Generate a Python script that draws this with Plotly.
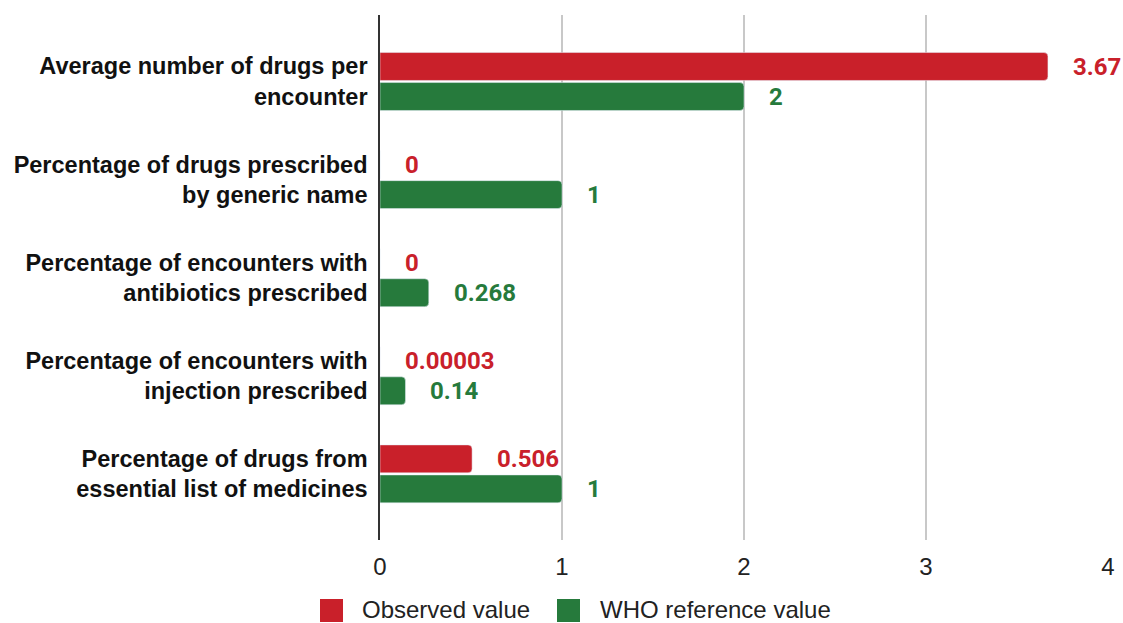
import plotly.graph_objects as go

categories = [
    "Average number of drugs per<br>encounter",
    "Percentage of drugs prescribed<br>by generic name",
    "Percentage of encounters with<br>antibiotics prescribed",
    "Percentage of encounters with<br>injection prescribed",
    "Percentage of drugs from<br>essential list of medicines",
]
observed = [3.67, 0, 0, 0.00003, 0.506]
who_ref = [2, 1, 0.268, 0.14, 1]
observed_labels = ["3.67", "0", "0", "0.00003", "0.506"]
who_labels = ["2", "1", "0.268", "0.14", "1"]
series_names = ["Observed value", "WHO reference value"]
x_ticks = [0, 1, 2, 3, 4]

RED = "#c9202a"
GREEN = "#267a3c"

W, H = 1123, 623
ML, MR, MT, MB = 380, 15, 15, 83
PW, PH = W - ML - MR, H - MT - MB


def px_x(sx):  # screen x -> paper x
    return (sx - ML) / PW


def px_y(sy):  # screen y -> paper y
    return (H - MB - sy) / PH


fig = go.Figure()
fig.add_trace(go.Bar(y=categories, x=observed, orientation="h", name=series_names[0],
                     marker=dict(color=RED, cornerradius=4), hoverinfo="x"))
fig.add_trace(go.Bar(y=categories, x=who_ref, orientation="h", name=series_names[1],
                     marker=dict(color=GREEN, cornerradius=4), hoverinfo="x"))

annotations = []
for cat, v, t in zip(categories, observed, observed_labels):
    annotations.append(dict(x=v, y=cat, xref="x", yref="y", text=f"<b>{t}</b>", showarrow=False,
                            xanchor="left", yanchor="middle", xshift=23, yshift=15,
                            font=dict(family="Roboto", size=24, color=RED)))
for cat, v, t in zip(categories, who_ref, who_labels):
    annotations.append(dict(x=v, y=cat, xref="x", yref="y", text=f"<b>{t}</b>", showarrow=False,
                            xanchor="left", yanchor="middle", xshift=23, yshift=-15,
                            font=dict(family="Roboto", size=24, color=GREEN)))

# custom legend (large square swatches)
legend_items = [(series_names[0], RED, 320, 360), (series_names[1], GREEN, 557, 598)]
shapes = []
for name, col, sq_x, tx in legend_items:
    shapes.append(dict(type="rect", xref="paper", yref="paper",
                       x0=px_x(sq_x), x1=px_x(sq_x + 23), y0=px_y(599), y1=px_y(622),
                       fillcolor=col, line=dict(width=0), layer="above"))
    annotations.append(dict(x=px_x(tx), y=px_y(609), xref="paper", yref="paper", text=name,
                            showarrow=False, xanchor="left", yanchor="middle",
                            font=dict(family="Liberation Sans, Arial", size=24, color="#222")))

fig.update_layout(
    width=W, height=H,
    margin=dict(l=ML, r=MR, t=MT, b=MB, autoexpand=False),
    paper_bgcolor="white", plot_bgcolor="white",
    barmode="group", bargap=0.388, bargroupgap=0.07,
    annotations=annotations, shapes=shapes,
    font=dict(family="Liberation Sans, Arial", color="#222"),
    xaxis=dict(range=[0, 4], tickvals=x_ticks, showgrid=True, gridcolor="#c8c8c8", gridwidth=1.5,
               zeroline=False, tickfont=dict(size=24, color="#222"), ticks="", ticklen=0,
               ticklabelstandoff=10),
    yaxis=dict(range=[4.674, -0.678], showline=True, linecolor="#333", linewidth=1.5,
               ticks="", tickfont=dict(size=23.5, color="#111", family="Liberation Sans, Arial"),
               ticklabelstandoff=6,
               tickvals=categories, ticktext=[f"<b>{c}</b>" for c in categories]),
    showlegend=False,
)

fig.write_html("out.html", config={"displayModeBar": False},
               post_script="document.body.style.margin='0';document.body.style.overflow='hidden';")
